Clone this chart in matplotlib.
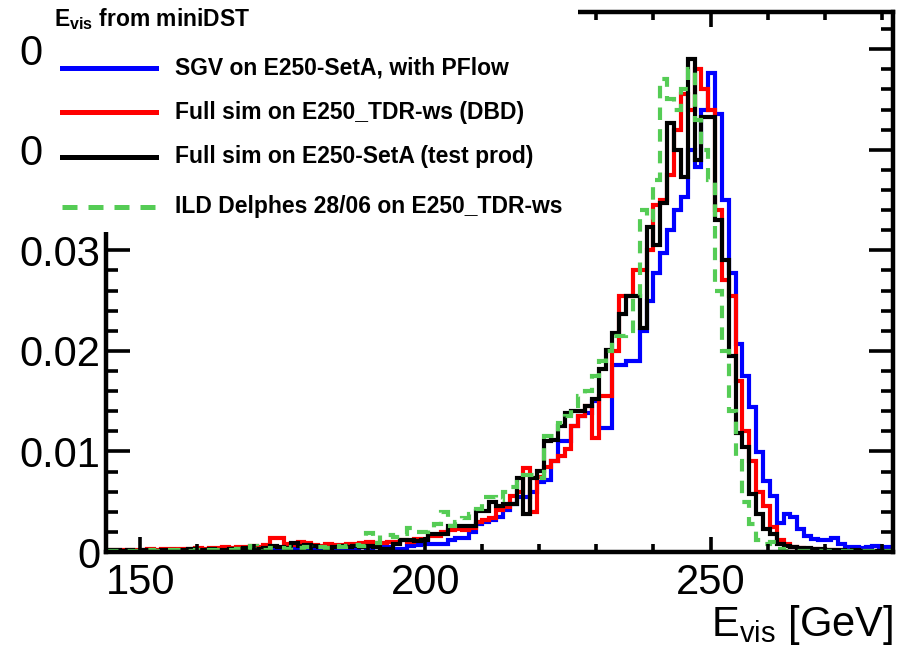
import numpy as np
import matplotlib
matplotlib.use("Agg")
import matplotlib.pyplot as plt
from matplotlib.lines import Line2D
from matplotlib.patches import Rectangle
from matplotlib.ticker import MultipleLocator, FixedLocator, FixedFormatter

plt.rcParams['font.family'] = ['Liberation Sans', 'DejaVu Sans']
plt.rcParams['mathtext.fontset'] = 'custom'
plt.rcParams['mathtext.rm'] = 'Liberation Sans'
plt.rcParams['mathtext.bf'] = 'Liberation Sans:bold'

# ---------------- data (bin contents, units of 1e-3) ----------------
bin_low = 144.0
bin_width = 1.2
n_bins = 115

sgv_setA = [
    0.1, 0.1, 0.1, 0.1, 0.1, 0.1, 0.1, 0.1, 0.1, 0.1,
    0.1, 0.1, 0.1, 0.1, 0.1, 0.2, 0.1, 0.1, 0.2, 0.1,
    0.2, 0.2, 0.1, 0.2, 0.2, 0.2, 0.2, 0.3, 0.2, 0.2,
    0.2, 0.3, 0.2, 0.3, 0.4, 0.3, 0.4, 0.5, 0.4, 0.5,
    0.5, 0.5, 0.3, 0.3, 0.6, 0.7, 0.8, 0.8, 0.8, 0.8,
    1.2, 1.4, 1.4, 2.0, 2.8, 3.0, 3.2, 3.5, 4.2, 4.8,
    5.5, 5.5, 6.0, 7.0, 7.2, 9.0, 11.0, 11.0, 12.5, 13.5,
    13.8, 15.0, 12.3, 12.3, 18.6, 18.6, 19.0, 19.0, 22.0, 25.0,
    27.7, 29.7, 32.0, 34.0, 35.3, 40.0, 38.3, 44.0, 47.6, 43.6,
    35.0, 27.7, 20.7, 17.5, 14.4, 9.9, 7.1, 5.6, 2.9, 3.8,
    3.5, 2.3, 1.6, 1.3, 1.2, 1.2, 1.4, 0.8, 0.5, 0.5,
    0.4, 0.5, 0.6, 0.5, 0.5,
]

full_dbd = [
    0.2, 0.2, 0.2, 0.2, 0.2, 0.2, 0.3, 0.2, 0.3, 0.3,
    0.3, 0.3, 0.3, 0.4, 0.3, 0.4, 0.4, 0.5, 0.4, 0.5,
    0.5, 0.6, 0.5, 0.7, 1.4, 1.4, 0.8, 0.7, 1.0, 0.9,
    0.7, 0.6, 0.8, 0.7, 0.7, 0.8, 0.8, 0.9, 1.0, 0.9,
    0.9, 1.0, 1.0, 1.2, 1.0, 1.3, 1.3, 1.6, 1.6, 2.0,
    2.2, 2.3, 2.2, 2.4, 3.0, 3.2, 3.4, 4.2, 4.5, 5.6,
    6.0, 8.4, 4.0, 7.5, 8.5, 9.0, 9.5, 10.2, 12.5, 13.5,
    14.5, 11.3, 15.5, 15.5, 20.0, 25.5, 25.5, 28.0, 28.0, 30.0,
    34.5, 35.0, 37.5, 42.0, 45.5, 44.0, 48.0, 46.0, 44.0, 34.0,
    27.0, 25.5, 17.0, 12.0, 9.0, 6.0, 4.6, 2.5, 1.2, 0.8,
    0.5, 0.4, 0.3, 0.3, 0.2, 0.2, 0.2, 0.1, 0.1, 0.1,
    0.1, 0.1, 0.1, 0.1, 0.1,
]

full_setA = [
    0.2, 0.2, 0.1, 0.2, 0.1, 0.2, 0.2, 0.1, 0.2, 0.2,
    0.1, 0.2, 0.3, 0.2, 0.2, 0.3, 0.2, 0.2, 0.3, 0.3,
    0.4, 0.3, 0.3, 0.4, 0.6, 0.5, 0.4, 0.9, 0.6, 0.7,
    0.6, 0.5, 0.4, 0.5, 0.6, 0.5, 0.6, 0.5, 0.6, 0.5,
    0.3, 0.3, 0.8, 1.2, 1.2, 1.1, 1.2, 1.8, 1.8, 1.8,
    2.6, 2.6, 2.6, 2.6, 4.1, 4.1, 5.0, 4.6, 4.8, 4.8,
    7.4, 3.8, 7.4, 8.1, 11.0, 11.1, 12.5, 13.8, 14.0, 14.0,
    14.5, 15.2, 18.2, 20.1, 21.8, 23.7, 25.5, 25.5, 22.3, 32.3,
    30.5, 34.7, 42.7, 40.0, 37.3, 49.0, 39.0, 43.3, 43.3, 33.0,
    29.0, 19.5, 11.8, 10.4, 5.8, 3.8, 2.3, 1.8, 0.8, 0.6,
    0.5, 0.4, 0.4, 0.3, 0.3, 0.2, 0.2, 0.2, 0.1, 0.2,
    0.1, 0.1, 0.1, 0.1, 0.1,
]

delphes = [
    0.1, 0.1, 0.1, 0.1, 0.1, 0.1, 0.2, 0.1, 0.1, 0.2,
    0.2, 0.1, 0.1, 0.2, 0.1, 0.2, 0.2, 0.2, 0.2, 0.3,
    0.2, 0.6, 0.3, 0.2, 0.4, 0.4, 0.3, 0.5, 0.4, 0.5,
    0.4, 0.5, 0.4, 0.6, 0.5, 0.6, 0.7, 0.6, 1.9, 0.9,
    1.7, 1.7, 1.5, 1.8, 2.4, 2.0, 2.0, 2.4, 2.8, 4.0,
    2.6, 3.0, 3.4, 3.8, 4.3, 5.5, 5.5, 5.2, 6.0, 6.5,
    7.0, 7.7, 7.7, 7.4, 11.5, 11.5, 12.8, 13.5, 14.5, 15.5,
    16.0, 17.5, 19.0, 20.0, 21.5, 21.5, 22.0, 25.5, 34.0, 33.0,
    37.0, 47.0, 45.0, 44.0, 46.0, 48.0, 43.0, 40.0, 37.0, 26.0,
    20.0, 14.0, 9.0, 5.0, 2.8, 1.2, 0.8, 1.0, 0.3, 0.1,
    0.1, 0.1, 0.1, 0.1, 0.1, 0.1, 0.1, 0.1, 0.1, 0.1,
    0.1, 0.1, 0.1, 0.1, 0.1,
]

series_labels = [
    "SGV on E250-SetA, with PFlow",
    "Full sim on E250_TDR-ws (DBD)",
    "Full sim on E250-SetA (test prod)",
    "ILD Delphes 28/06 on E250_TDR-ws",
]
series_colors = ["#0000ff", "#ff0000", "#000000", "#55cc55"]
x_ticks = [150, 200, 250]
y_ticks = [0.0, 0.01, 0.02, 0.03, 0.04, 0.05]
y_ticklabels = ["0", "0.01", "0.02", "0.03", "0.04", "0.05"]

# ---------------- figure ----------------
W, H = 909, 647
fig = plt.figure(figsize=(W / 100, H / 100), dpi=100)
ax = fig.add_axes([106 / W, 1 - 552 / H, (893 - 106) / W, (552 - 12) / H])

edges = bin_low + bin_width * np.arange(n_bins + 1)
lw = 3.0
dash = (0, (3.0, 2.2))
all_series = [sgv_setA, full_dbd, full_setA, delphes]
styles = ["-", "-", "-", dash]
for vals, col, ls in zip(all_series, series_colors, styles):
    v = np.array(vals) * 1e-3
    ax.stairs(v, edges, color=col, lw=lw, linestyle=ls, baseline=None,
              joinstyle='miter')

ax.set_xlim(edges[0], edges[-1])
ax.set_ylim(0, 0.0537)

ax.xaxis.set_major_locator(FixedLocator(x_ticks))
ax.xaxis.set_minor_locator(MultipleLocator(10))
ax.yaxis.set_major_locator(FixedLocator(y_ticks))
ax.yaxis.set_major_formatter(FixedFormatter(y_ticklabels))
ax.yaxis.set_minor_locator(MultipleLocator(0.002))

for sp in ax.spines.values():
    sp.set_linewidth(3.2)

ax.tick_params(which='both', direction='in', top=True, right=True,
               width=2.6, labelsize=30)
ax.xaxis.set_tick_params(which='major', length=11, pad=8)
ax.xaxis.set_tick_params(which='minor', length=5.5)
ax.yaxis.set_tick_params(which='major', length=17, pad=4)
ax.yaxis.set_tick_params(which='minor', length=8.5)

# x axis title
fig.text(893 / W, 1 - 636 / H, r"$\mathrm{E}_{\mathrm{vis}}$ [GeV]", fontsize=30,
         ha='right', va='baseline')

# legend box covering the upper left of the frame
fig.add_artist(Rectangle((43 / W, 1 - 232 / H), (578 - 43) / W, 232 / H,
                         transform=fig.transFigure, facecolor='white',
                         edgecolor='none', zorder=10))
fig.text(54 / W, 1 - 26 / H, r"$\mathbf{E}_{\mathbf{vis}}$ from miniDST",
         fontsize=16.5, fontweight='bold', ha='left', va='baseline', zorder=11)

row_y = [68, 112, 157, 207]
for lab, col, ls, yy in zip(series_labels, series_colors, styles, row_y):
    fig.add_artist(Line2D([62 / W, 156 / W], [1 - yy / H, 1 - yy / H],
                          transform=fig.transFigure, color=col, lw=lw + 0.6,
                          linestyle=ls, zorder=11))
    fig.text(175 / W, 1 - yy / H, lab, fontsize=16.5, fontweight='bold',
             ha='left', va='center', zorder=11)

fig.savefig("out.png", dpi=100)
